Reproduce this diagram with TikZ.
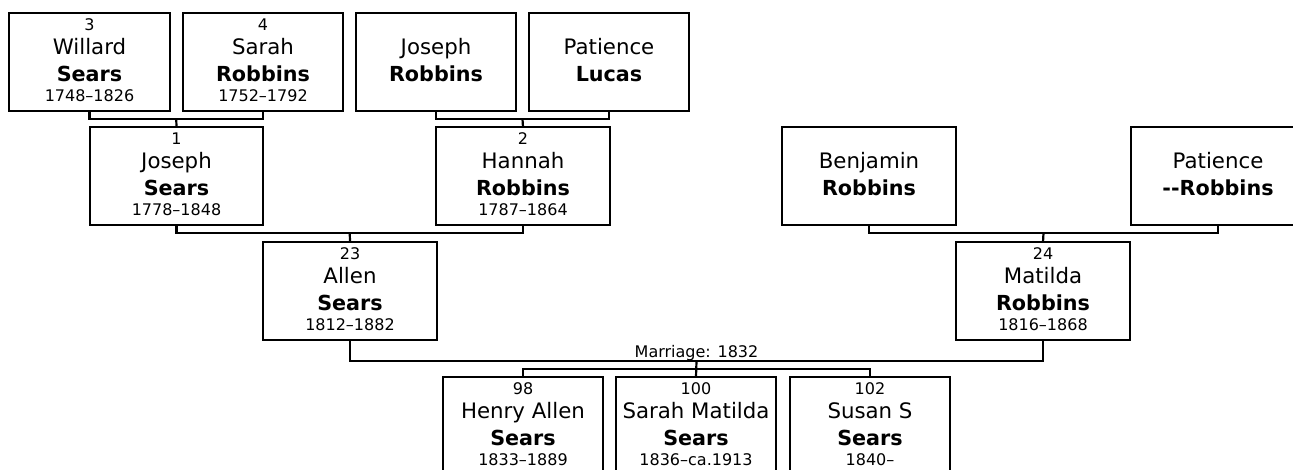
\documentclass[tikz,border=0pt]{standalone}
\usepackage{fontspec}
\setmainfont{DejaVu Sans}
\usetikzlibrary{calc}
\tikzset{
  pbox/.style={draw, line width=2.2pt, minimum height=98pt, inner sep=0pt, outer sep=0pt},
  conn/.style={line width=2.2pt},
  smalltxt/.style={font=\fontsize{16}{19}\selectfont, inner sep=0pt, anchor=base},
  nametxt/.style={font=\fontsize{21.3}{25}\selectfont, inner sep=0pt, anchor=base},
  lasttxt/.style={font=\fontsize{20.7}{24}\selectfont\bfseries, inner sep=0pt, anchor=base},
  marrtxt/.style={font=\fontsize{16}{19}\selectfont, inner sep=0pt, anchor=base}
}
% #1 id, #2 cx, #3 top, #4 width, #5 number, #6 first, #7 last, #8 dates
\newcommand\personbox[8]{%
  \node[pbox, minimum width=#4pt] (#1) at (#2,#3+49) {};
  \if\relax\detokenize{#5}\relax\else
    \node[smalltxt] (#1-n) at ($(#1.north)+(0,17.5)$) {#5};\fi
  \node[nametxt] (#1-f) at ($(#1.north)+(0,41.5)$) {#6};
  \node[lasttxt] (#1-l) at ($(#1.north)+(0,68.5)$) {#7};
  \if\relax\detokenize{#8}\relax\else
    \node[smalltxt] (#1-d) at ($(#1.north)+(0,88.5)$) {#8};\fi
}
\begin{document}
\begin{tikzpicture}[x=1pt,y=-1pt]
\useasboundingbox (0,0) rectangle (1293,470);
\clip (0,0) rectangle (1293,470);

\personbox{p3}{89.5}{13}{161}{3}{Willard}{Sears}{1748–1826}
\personbox{p4}{263}{13}{160}{4}{Sarah}{Robbins}{1752–1792}
\personbox{pJR}{436}{13}{160}{}{Joseph}{Robbins}{}
\personbox{pPL}{609}{13}{160}{}{Patience}{Lucas}{}
\personbox{p1}{176.5}{127}{173}{1}{Joseph}{Sears}{1778–1848}
\personbox{p2}{523}{127}{174}{2}{Hannah}{Robbins}{1787–1864}
\personbox{pBR}{869}{127}{174}{}{Benjamin}{Robbins}{}
\personbox{pPR}{1218}{127}{174}{}{Patience}{-{}-Robbins}{}
\personbox{p23}{350}{242}{174}{23}{Allen}{Sears}{1812–1882}
\personbox{p24}{1043}{242}{174}{24}{Matilda}{Robbins}{1816–1868}
\personbox{p98}{523}{377}{160}{98}{Henry Allen}{Sears}{1833–1889}
\personbox{p100}{696}{377}{160}{100}{Sarah Matilda}{Sears}{1836–ca.1913}
\personbox{p102}{870}{377}{160}{102}{Susan S}{Sears}{1840–}

% parents of Joseph Sears
\draw[conn] (p3.south) -- ++(0,8) -| (p4.south);
\coordinate (c34) at ($(p3.south)!.5!(p4.south)+(0,8)$);
\draw[conn] (c34) -- (p1.north);
% parents of Hannah
\draw[conn] (pJR.south) -- ++(0,8) -| (pPL.south);
\coordinate (cJP) at ($(pJR.south)!.5!(pPL.south)+(0,8)$);
\draw[conn] (cJP) -- (p2.north);
% parents of Allen
\draw[conn] (p1.south) -- ++(0,8) -| (p2.south);
\coordinate (c12) at ($(p1.south)!.5!(p2.south)+(0,8)$);
\draw[conn] (c12) -- (p23.north);
% parents of Matilda
\draw[conn] (pBR.south) -- ++(0,8) -| (pPR.south);
\coordinate (cBP) at ($(pBR.south)!.5!(pPR.south)+(0,8)$);
\draw[conn] (cBP) -- (p24.north);
% marriage
\draw[conn] (p23.south) -- ++(0,21) -| (p24.south);
\coordinate (cm) at ($(p23.south)!.5!(p24.south)+(0,21)$);
\node[marrtxt] (mlabel) at ($(cm)+(0,-4)$) {Marriage: 1832};
% children
\draw[conn] (cm) -- (p100.north);
\draw[conn] (p98.north) -- ++(0,-8) -| (p102.north);
\end{tikzpicture}
\end{document}
